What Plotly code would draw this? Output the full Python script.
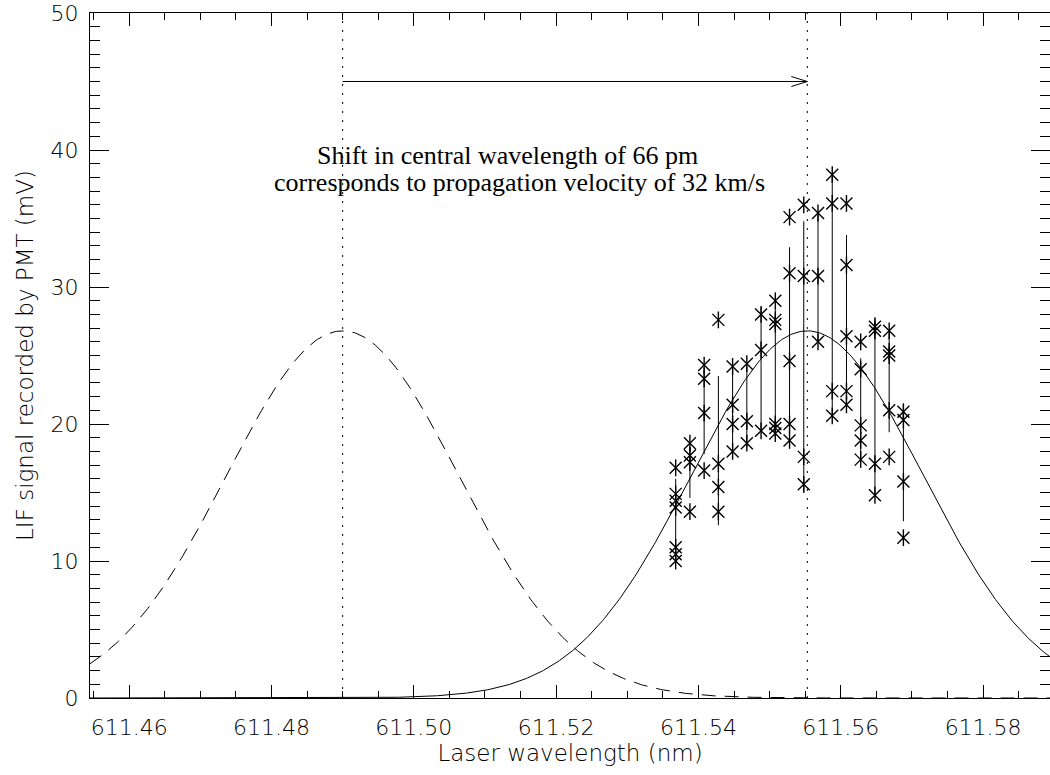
import numpy as np
import plotly.graph_objects as go

# Laser wavelengths of the measurement positions (nm)
wavelength = [611.5368, 611.5388, 611.5408, 611.5428, 611.5448, 611.5468, 611.5488,
              611.5508, 611.5528, 611.5548, 611.5568, 611.5588, 611.5608, 611.5628,
              611.5648, 611.5668, 611.5688]

# Individual LIF shots recorded at each wavelength (mV)
shots = [
    [16.8, 14.9, 14.4, 13.9, 11.0, 10.5, 10.0],
    [18.6, 17.7, 17.2, 13.6],
    [24.3, 23.3, 20.8, 16.6],
    [27.6, 17.1, 15.4, 13.6],
    [24.2, 21.4, 20.0, 18.0],
    [24.4, 20.2, 18.6],
    [28.0, 25.4, 19.5],
    [29.0, 27.6, 27.3, 20.0, 19.7, 19.3],
    [35.1, 31.0, 24.6, 20.0, 18.8],
    [36.0, 30.8, 17.6, 15.6],
    [35.4, 30.8, 26.0],
    [38.2, 36.1, 22.4, 20.6],
    [36.1, 31.6, 26.4, 22.4, 21.4],
    [26.0, 24.0, 19.9, 18.8, 17.4],
    [27.1, 26.8, 17.1, 14.8],
    [26.8, 25.3, 25.0, 21.0, 17.6],
    [20.9, 20.3, 15.8, 11.7],
]

# Spread of the signal at each wavelength (mV)
spread_low = [11.0, 14.6, 17.8, 12.6, 18.1, 18.3, 19.6, 19.3, 19.1, 15.0, 26.0, 20.6,
              21.4, 17.4, 14.8, 19.4, 12.9]
spread_high = [16.0, 18.3, 24.1, 23.5, 24.2, 24.2, 28.5, 28.5, 32.9, 34.8, 35.3, 38.2,
               33.8, 24.8, 27.8, 26.8, 21.4]

# Gaussian line profiles: rest-frame reference and fit to the data
amplitude = 26.8      # mV
sigma = 0.0163        # nm
center_rest = 611.4900
center_fit = 611.5553
arrow_level = 45.0

x_range = [611.4545, 611.5894]
y_range = [0, 50]

TICK_FONT = dict(family="DejaVu Sans", size=22, color="black", weight=200)
TITLE_FONT = dict(family="DejaVu Sans", size=23, color="black", weight=200)
NOTE_FONT = dict(family="Liberation Serif", size=26, color="black")

fig = go.Figure()

# Model curves
xs = np.linspace(x_range[0], x_range[1], 600)
prof_rest = amplitude * np.exp(-(xs - center_rest) ** 2 / (2 * sigma ** 2))
prof_fit = amplitude * np.exp(-(xs - center_fit) ** 2 / (2 * sigma ** 2))
fig.add_trace(go.Scatter(x=xs, y=prof_rest, mode="lines",
                         line=dict(color="black", width=1, dash="14px,9px"),
                         hoverinfo="skip"))
fig.add_trace(go.Scatter(x=xs, y=prof_fit, mode="lines",
                         line=dict(color="black", width=1), hoverinfo="skip"))

# Vertical spread bars
bx, by = [], []
for w, lo, hi in zip(wavelength, spread_low, spread_high):
    bx += [w, w, None]
    by += [lo, hi, None]
fig.add_trace(go.Scatter(x=bx, y=by, mode="lines",
                         line=dict(color="black", width=1), hoverinfo="skip"))

# Asterisk markers for each shot (vertical stroke + diagonal cross)
px, py = [], []
for w, vals in zip(wavelength, shots):
    for v in vals:
        px.append(w)
        py.append(v)
for sym in ["x-thin-open", "line-ns-open"]:
    fig.add_trace(go.Scatter(x=px, y=py, mode="markers",
                             marker=dict(symbol=sym, size=12, color="black",
                                         line=dict(color="black", width=1.4))))

# Dotted markers at the two line centres
for c in [center_rest, center_fit]:
    fig.add_shape(type="line", xref="x", yref="y", x0=c, x1=c,
                  y0=y_range[0], y1=y_range[1],
                  line=dict(color="black", width=1, dash="2px,7px"))

# Shift arrow
fig.add_shape(type="line", xref="x", yref="y", x0=center_rest, x1=center_fit,
              y0=arrow_level, y1=arrow_level, line=dict(color="black", width=1))
for dy in (5, -5):
    fig.add_shape(type="line", xref="x", yref="y",
                  xsizemode="pixel", xanchor=center_fit, x0=-16, x1=0,
                  ysizemode="pixel", yanchor=arrow_level, y0=dy, y1=0,
                  line=dict(color="black", width=1))

fig.add_annotation(x=611.5132, y=39.6, xref="x", yref="y", showarrow=False,
                   text="Shift in central wavelength of 66 pm", font=NOTE_FONT)
fig.add_annotation(x=611.5149, y=37.6, xref="x", yref="y", showarrow=False,
                   text="corresponds to propagation velocity of 32 km/s", font=NOTE_FONT)

fig.update_layout(
    width=1050, height=775,
    margin=dict(l=90, r=0, t=13, b=77),
    paper_bgcolor="white", plot_bgcolor="white",
    showlegend=False,
    font=TICK_FONT,
)
fig.update_xaxes(
    range=x_range, showgrid=False, zeroline=False,
    showline=True, linecolor="black", linewidth=1, mirror="ticks",
    ticks="inside", ticklen=13, tickwidth=1, tickcolor="black",
    tick0=611.46, dtick=0.02, tickformat=".2f",
    minor=dict(ticks="inside", ticklen=7, tickwidth=1, tickcolor="black",
               tick0=611.46, dtick=0.005, showgrid=False),
    ticklabelstandoff=10,
    tickfont=TICK_FONT,
    title=dict(text="Laser wavelength (nm)", font=TITLE_FONT, standoff=3),
)
fig.update_yaxes(
    range=y_range, showgrid=False, zeroline=False,
    showline=True, linecolor="black", linewidth=1, mirror="ticks",
    ticks="inside", ticklen=19, tickwidth=1, tickcolor="black",
    tick0=0, dtick=10,
    minor=dict(ticks="inside", ticklen=10, tickwidth=1, tickcolor="black",
               tick0=0, dtick=1, showgrid=False),
    ticklabelstandoff=6,
    tickfont=TICK_FONT,
    title=dict(text="LIF signal recorded by PMT (mV)", font=TITLE_FONT, standoff=10),
)

fig.write_html("out.html")
